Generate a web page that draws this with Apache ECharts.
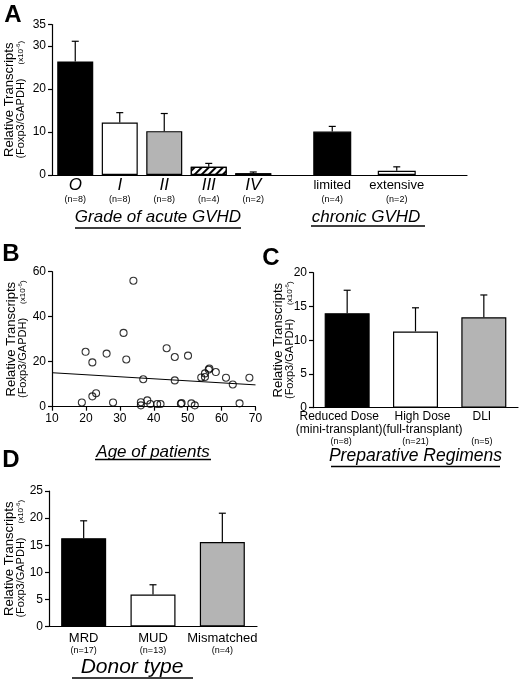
<!DOCTYPE html>
<html>
<head>
<meta charset="utf-8">
<script src="https://cdn.jsdelivr.net/npm/echarts@6/dist/echarts.min.js"></script>
<style>
  html, body { margin: 0; padding: 0; background: #fff; }
  #chart { width: 520px; height: 680px; }
</style>
</head>
<body>
<div id="chart"></div>
<script>
// A: acute / chronic GVHD
const acuteGrades = ['O', 'I', 'II', 'III', 'IV'];
const acuteN = ['(n=8)', '(n=8)', '(n=8)', '(n=4)', '(n=2)'];
const acuteMeans = [26.4, 12.2, 10.2, 1.9, 0.4];
const acuteErr = [4.7, 2.3, 4.1, 0.8, 0.3];
const chronicTypes = ['limited', 'extensive'];
const chronicN = ['(n=4)', '(n=2)'];
const chronicMeans = [10.1, 1.0];
const chronicErr = [1.2, 0.9];
const ticksA = [0, 10, 20, 30, 35];

// B: age of patients
const ages = [18.8, 19.9, 21.9, 21.9, 23.0, 26.1, 28.0, 31.1, 31.9, 34.0, 36.2, 36.2, 36.9, 38.1, 39.0,
  41.0, 42.0, 43.8, 46.2, 46.2, 48.0, 48.2, 50.1, 51.1, 52.1, 54.0, 55.1, 55.1, 56.2, 56.4,
  58.3, 61.3, 63.3, 65.3, 68.2];
const transcripts = [1.9, 24.4, 19.7, 4.6, 6.0, 23.6, 1.9, 32.8, 21.0, 56.0, 2.0, 0.6, 12.2, 2.8, 1.2,
  1.2, 1.2, 26.0, 22.1, 11.7, 1.3, 1.6, 22.7, 1.5, 0.6, 13.0, 14.8, 13.2, 16.5, 17.0,
  15.4, 12.9, 9.9, 1.5, 12.9];
const trendAges = [10, 70];
const trendVals = [15.1, 9.7];

// C: preparative regimens
const regimens = ['Reduced Dose', 'High Dose', 'DLI'];
const regimenSub = ['(mini-transplant)', '(full-transplant)', ' '];
const regimenN = ['(n=8)', '(n=21)', '(n=5)'];
const regimenMeans = [14.0, 11.3, 13.4];
const regimenErr = [3.4, 3.5, 3.3];

// D: donor type
const donors = ['MRD', 'MUD', 'Mismatched'];
const donorN = ['(n=17)', '(n=13)', '(n=4)'];
const donorMeans = [16.3, 5.9, 15.6];
const donorErr = [3.2, 1.8, 5.3];

const FONT = '"Liberation Sans", Arial, Helvetica, sans-serif';
const GRAY = '#b4b4b4';
const hatch = {
  symbol: 'rect', symbolSize: 1, color: '#000', backgroundColor: '#fff',
  dashArrayX: [1, 0], dashArrayY: [1.2, 2.6], rotation: -Math.PI / 4
};
const hatchGray = {
  symbol: 'rect', symbolSize: 1, color: '#777', backgroundColor: '#ddd',
  dashArrayX: [2, 1], dashArrayY: [1, 1], rotation: 0
};

const yName = '{a|Relative Transcripts}\n{b|(Foxp3/GAPDH)}{g| }{s|(x10}{p|-6}{s|)}';
const yNameStyle = {
  color: '#000', fontFamily: FONT,
  rich: {
    a: { fontSize: 13, lineHeight: 11, fontFamily: FONT, color: '#000' },
    b: { fontSize: 11, lineHeight: 11, fontFamily: FONT, color: '#000' },
    g: { fontSize: 11, width: 14, verticalAlign: 'middle' },
    s: { fontSize: 8, fontFamily: FONT, color: '#000', verticalAlign: 'middle' },
    p: { fontSize: 6, fontFamily: FONT, color: '#000', verticalAlign: 'top' }
  }
};

function yValueAxis(grid, max, interval, gap, shown) {
  const ax = {
    type: 'value', gridIndex: grid, min: 0, max: max, interval: interval,
    name: yName, nameLocation: 'middle', nameRotate: 90, nameGap: gap,
    nameMoveOverlap: false,
    nameTextStyle: yNameStyle,
    axisLine: { show: true, lineStyle: { color: '#000', width: 1.2 } },
    axisTick: { show: true, inside: false, length: 4, lineStyle: { color: '#000', width: 1.2 } },
    axisLabel: { color: '#000', fontSize: 12, fontFamily: FONT, margin: 6 },
    splitLine: { show: false }
  };
  if (shown) {
    ax.axisLabel.formatter = v => (shown.indexOf(v) >= 0 ? String(v) : '');
    ax.axisTick.customValues = shown;
  }
  return ax;
}

function hiddenY(grid, max) {
  return { type: 'value', gridIndex: grid, min: 0, max: max, show: false, splitLine: { show: false } };
}

function catAxis(grid, cats, formatter, rich, margin, showLine) {
  return {
    type: 'category', gridIndex: grid, data: cats,
    axisLine: { show: showLine, lineStyle: { color: '#000', width: 1.2 } },
    axisTick: { show: false },
    axisLabel: { interval: 0, margin: margin, color: '#000', fontFamily: FONT, formatter: formatter, rich: rich },
    splitLine: { show: false }
  };
}

function bars(xi, means, fills, width) {
  return {
    type: 'bar', xAxisIndex: xi, yAxisIndex: xi, barWidth: width,
    data: means.map((m, i) => ({ value: m, itemStyle: fills[i] })),
    itemStyle: { borderColor: '#000', borderWidth: 1.2 },
    z: 2
  };
}

function errorBars(xi, means, errs, cap) {
  return {
    type: 'custom', xAxisIndex: xi, yAxisIndex: xi, z: 3,
    data: means.map((m, i) => [i, m, errs[i]]),
    renderItem: function (params, api) {
      const base = api.coord([api.value(0), api.value(1)]);
      const top = api.coord([api.value(0), api.value(1) + api.value(2)]);
      const st = { stroke: '#000', lineWidth: 1.2 };
      return {
        type: 'group',
        children: [
          { type: 'line', shape: { x1: base[0], y1: base[1], x2: top[0], y2: top[1] }, style: st },
          { type: 'line', shape: { x1: top[0] - cap, y1: top[1], x2: top[0] + cap, y2: top[1] }, style: st }
        ]
      };
    }
  };
}

function label(text, x, y, size, italic, bold) {
  return {
    type: 'text', x: x, y: y,
    style: {
      text: text, fill: '#000', align: 'center', verticalAlign: 'middle',
      font: (italic ? 'italic ' : '') + (bold ? 'bold ' : '') + size + 'px ' + FONT
    }
  };
}
function rule(x1, x2, y) {
  return { type: 'line', shape: { x1: x1, y1: y, x2: x2, y2: y }, style: { stroke: '#000', lineWidth: 1.3 } };
}

function grid(left, top, width, height) {
  return { left: left, top: top, width: width, height: height, outerBoundsMode: 'none', containLabel: false };
}

const chart = echarts.init(document.getElementById('chart'));

const option = {
  animation: false,
  backgroundColor: '#fff',
  textStyle: { fontFamily: FONT },
  grid: [
    grid(52, 24.5, 415, 150.5),
    grid(53, 24.5, 222.5, 150.5),
    grid(300, 24.5, 129, 150.5),
    grid(52, 271.7, 203.5, 135),
    grid(313, 272.7, 205, 135),
    grid(49, 491, 208, 135.5)
  ],
  xAxis: [
    { type: 'value', gridIndex: 0, min: 0, max: 1,
      axisLine: { show: true, lineStyle: { color: '#000', width: 1.2 } },
      axisTick: { show: false }, axisLabel: { show: false }, splitLine: { show: false } },
    catAxis(1, acuteGrades, (v, i) => '{r|' + v + '}\n{n|' + acuteN[i] + '}', {
      r: { fontSize: 17, fontStyle: 'italic', lineHeight: 16, fontFamily: FONT, color: '#000' },
      n: { fontSize: 9, lineHeight: 14, fontFamily: FONT, color: '#000' }
    }, 2, false),
    catAxis(2, chronicTypes, (v, i) => '{r|' + v + '}\n{n|' + chronicN[i] + '}', {
      r: { fontSize: 13, lineHeight: 16, fontFamily: FONT, color: '#000' },
      n: { fontSize: 9, lineHeight: 14, fontFamily: FONT, color: '#000' }
    }, 2, false),
    { type: 'value', gridIndex: 3, min: 10, max: 70, interval: 10,
      axisLine: { show: true, lineStyle: { color: '#000', width: 1.2 } },
      axisTick: { show: true, length: 4, lineStyle: { color: '#000', width: 1.2 } },
      axisLabel: { color: '#000', fontSize: 12, fontFamily: FONT, margin: 6 },
      splitLine: { show: false } },
    catAxis(4, regimens, function (v, i) {
      const k = ['L', 'R', 'C'][i];
      return '{t' + k + '|' + v + '}\n{t' + k + '|' + regimenSub[i] + '}\n{n' + k + '|' + regimenN[i] + '}';
    }, {
      tL: { fontSize: 12, lineHeight: 13, fontFamily: FONT, color: '#000', padding: [0, 16, 0, 0] },
      tR: { fontSize: 12, lineHeight: 13, fontFamily: FONT, color: '#000', padding: [0, 0, 0, 14] },
      tC: { fontSize: 12, lineHeight: 13, fontFamily: FONT, color: '#000', padding: [0, 4, 0, 0] },
      nL: { fontSize: 9, lineHeight: 11, fontFamily: FONT, color: '#000', padding: [0, 12, 0, 0] },
      nR: { fontSize: 9, lineHeight: 11, fontFamily: FONT, color: '#000' },
      nC: { fontSize: 9, lineHeight: 11, fontFamily: FONT, color: '#000', padding: [0, 4, 0, 0] }
    }, 2.5, true),
    catAxis(5, donors, (v, i) => '{r|' + v + '}\n{n|' + donorN[i] + '}', {
      r: { fontSize: 13, lineHeight: 14, fontFamily: FONT, color: '#000' },
      n: { fontSize: 9, lineHeight: 11, fontFamily: FONT, color: '#000' }
    }, 4.5, true)
  ],
  yAxis: [
    yValueAxis(0, 35, 5, 26, ticksA),
    hiddenY(1, 35),
    hiddenY(2, 35),
    yValueAxis(3, 60, 20, 24),
    yValueAxis(4, 20, 5, 18),
    yValueAxis(5, 25, 5, 23)
  ],
  series: [
    bars(1, acuteMeans, [
      { color: '#000' }, { color: '#fff' }, { color: GRAY },
      { color: '#fff', decal: hatch }, { color: '#ddd', decal: hatchGray }
    ], 36),
    errorBars(1, acuteMeans, acuteErr, 3.5),
    bars(2, chronicMeans, [{ color: '#000' }, { color: '#fff' }], 38),
    errorBars(2, chronicMeans, chronicErr, 3.5),
    {
      type: 'scatter', xAxisIndex: 3, yAxisIndex: 3, symbol: 'circle', symbolSize: 7,
      data: ages.map((a, i) => [a, transcripts[i]]),
      itemStyle: { color: 'rgba(255,255,255,0)', borderColor: '#000', borderWidth: 1.1 },
      z: 3
    },
    {
      type: 'line', xAxisIndex: 3, yAxisIndex: 3, showSymbol: false, silent: true,
      data: trendAges.map((a, i) => [a, trendVals[i]]),
      lineStyle: { color: '#000', width: 1 }, z: 2
    },
    bars(4, regimenMeans, [{ color: '#000' }, { color: '#fff' }, { color: GRAY }], 45),
    errorBars(4, regimenMeans, regimenErr, 3.5),
    bars(5, donorMeans, [{ color: '#000' }, { color: '#fff' }, { color: GRAY }], 45),
    errorBars(5, donorMeans, donorErr, 3.5)
  ],
  graphic: [
    label('A', 13, 15, 24, false, true),
    label('B', 11, 254, 24, false, true),
    label('C', 271, 258, 24, false, true),
    label('D', 11, 460, 24, false, true),
    label('Grade of acute GVHD', 158, 217, 17, true),
    rule(75, 241, 228),
    label('chronic GVHD', 366, 217, 17, true),
    rule(311, 425, 226),
    label('Age of patients', 153, 452, 17, true),
    rule(95, 211, 459.5),
    label('Preparative Regimens', 415.5, 456, 17.5, true),
    rule(331, 500, 466.5),
    label('Donor type', 132, 667, 21, true),
    rule(72, 193, 678)
  ]
};

chart.setOption(option);
</script>
</body>
</html>
